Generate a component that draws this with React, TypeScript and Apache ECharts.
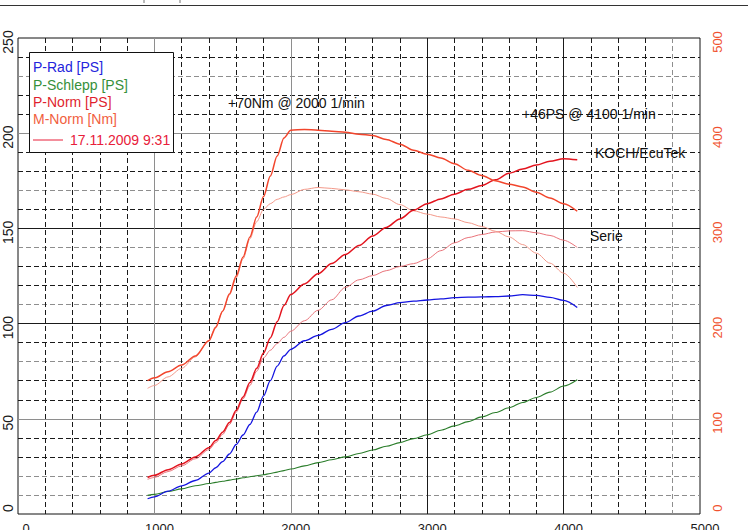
import React, { useEffect, useRef } from "react";
import * as echarts from "echarts";

// ---------------- DATA ----------------
const rpm = [950, 1000, 1100, 1200, 1300, 1400, 1450, 1500, 1550, 1600, 1650, 1700, 1750, 1800, 1850, 1900, 1950, 2000, 2100, 2200, 2300, 2400, 2500, 2600, 2700, 2800, 2900, 3000, 3100, 3200, 3300, 3400, 3500, 3600, 3700, 3800, 3900, 4000, 4100];

// P-Rad [PS]
const pRad = [8.0, 9.0, 12.0, 14.8, 17.6, 21.5, 24.3, 27.5, 31.5, 36.5, 41.5, 47, 53.5, 62, 70, 77.7, 83, 86.5, 91, 93.8, 97, 100.5, 104, 106.5, 109.5, 111, 111.8, 112.4, 113, 113.6, 113.9, 114, 114.2, 114.5, 115.2, 114.8, 113.8, 112.2, 108.5];

// P-Schlepp [PS]
const pSchlepp = [9.8, 10.3, 11.8, 13.2, 14.8, 16, 16.6, 17.2, 17.8, 18.4, 19, 19.6, 20.1, 20.6, 21.3, 22, 22.8, 23.6, 25.3, 27, 28.5, 30, 31.8, 33.6, 35.6, 37.5, 39.6, 41.6, 44, 46.3, 48.5, 51, 53.3, 55.8, 58.6, 61.2, 64, 67.2, 70.5];

// P-Norm [PS] KOCH/EcuTek
const pNormKoch = [19.2, 20.3, 23.3, 26.3, 30, 34.8, 38.6, 43, 48, 54.5, 61.5, 69, 76.5, 84.5, 92.5, 101, 109.5, 115.3, 120.8, 126.2, 131.5, 136.3, 141, 146, 150.5, 155, 159.5, 163, 165.5, 168, 170.5, 172.5, 175.5, 179, 181.2, 183.3, 185.3, 186.6, 186.0];

// P-Norm [PS] Serie
const pNormSerie = [18.2, 19.2, 22.3, 25.3, 29, 33.8, 37.5, 41.8, 47, 53.5, 60.5, 67.5, 75, 82, 86, 89.5, 92.8, 96, 101.5, 107, 112.5, 119, 123, 125.2, 127.8, 130, 131.5, 134, 138.3, 142.4, 145.2, 146.8, 148.1, 148.7, 148.8, 147.7, 146.3, 143.8, 140];

// M-Norm [Nm] KOCH/EcuTek
const mNormKoch = [140, 143, 149.5, 156.5, 166, 182, 196, 213, 231, 250, 270, 291, 312, 333.5, 355, 376, 395, 403, 404, 403, 402, 401, 399, 397.5, 393.5, 388.5, 382, 378, 374, 368, 361, 355.5, 350, 346.5, 343.5, 338, 332, 326, 318];

// M-Norm [Nm] Serie
const mNormSerie = [132, 135, 144, 153, 165, 182.5, 197, 213, 230, 248, 268, 289, 307, 320, 326, 330.5, 333, 335.5, 341, 343, 342, 340.5, 338.5, 336, 331.5, 325, 318.5, 315, 312, 310, 306, 302, 297, 291, 283, 274, 263.5, 253, 238];

// Axis ranges / ticks
const xMax = 5000;
const psMax = 250;
const nmMax = 500;
const grayDashedPS = [10, 20, 80, 110, 140, 170, 230];
const grayDashedRpm = [4800];
const solidPSColors = ["g", "b", "b", "g"]; // at 50,100,150,200 PS
const solidRpmColors = ["g", "g", "b", "b"]; // at 1000..4000 rpm

const legendItems = ["P-Rad [PS]", "P-Schlepp [PS]", "P-Norm [PS]", "M-Norm [Nm]"];
const legendDate = "17.11.2009 9:31";

// ---------------- STYLE ----------------
const FONT = "'Liberation Sans', Arial, sans-serif";
const BLACK = "#1a1a1a";
const GRAY = "#8e8e8e";
const TR = "rgba(0,0,0,0)";
const C_BLUE = "#1414e0";
const C_GREEN = "#2a7d2a";
const C_RED = "#e3141e";
const C_ORANGE = "#f2452c";
const C_RED_S = "#e9737a";
const C_ORANGE_S = "#f3998a";

const pair = (arr: number[]) => rpm.map((r, i) => [r, arr[i]]);

export default function App() {
  const ref = useRef<HTMLDivElement>(null);

  useEffect(() => {
    if (!ref.current) return;
    const chart = echarts.init(ref.current, undefined, { renderer: "svg" });

    const hDash: string[] = [];
    for (let v = 0; v <= psMax; v += 10) {
      if (v % 50 === 0) hDash.push(TR);
      else if (grayDashedPS.includes(v)) hDash.push(GRAY);
      else hDash.push(BLACK);
    }
    const vDash: string[] = [];
    for (let v = 0; v <= xMax; v += 200) {
      if (v % 1000 === 0) vDash.push(TR);
      else if (grayDashedRpm.includes(v)) vDash.push(GRAY);
      else vDash.push(BLACK);
    }
    const hSolid = [TR, ...solidPSColors.map((c) => (c === "g" ? GRAY : BLACK)), TR];
    const vSolid = [TR, ...solidRpmColors.map((c) => (c === "g" ? GRAY : BLACK)), TR];

    const richY = (color: string, size: number) => ({
      n: { fontSize: size, fontFamily: FONT, color, padding: [0, 8, 0, 0] },
      z: { fontSize: size, fontFamily: FONT, color, padding: [0, 0, 0, 12] },
    });

    const lineSeries = (name: string, data: number[], color: string, width: number, yIdx: number, z: number) => ({
      name,
      type: "line",
      xAxisIndex: 0,
      yAxisIndex: yIdx,
      data: pair(data),
      showSymbol: false,
      symbol: "none",
      smooth: 0.3,
      smoothMonotone: "x",
      z,
      lineStyle: { color, width },
      itemStyle: { color },
    });

    const legendX = 33;
    const legendColors = ["#2424dc", "#36903a", "#e01f2e", "#f1603e"];
    const legendY = [67, 84.5, 101.5, 118.5];
    const txt = (x: number, y: number, text: string, fill: string) => ({
      type: "text",
      z: 101,
      x,
      y,
      style: { text, fill, font: `14px ${FONT}`, textAlign: "left", textVerticalAlign: "middle" },
    });

    chart.setOption({
      animation: false,
      backgroundColor: "#fff",
      textStyle: { fontFamily: FONT },
      grid: {
        left: 18,
        right: 48,
        top: 38,
        bottom: 16,
        containLabel: false,
        outerBoundsMode: "none",
        show: true,
        borderColor: "#111",
        borderWidth: 1,
        backgroundColor: "#fff",
      },
      xAxis: [
        {
          type: "value",
          min: 0,
          max: xMax,
          interval: 200,
          position: "bottom",
          axisLine: { show: false },
          axisTick: { show: false },
          axisLabel: {
            margin: 8,
            fontSize: 13,
            color: BLACK,
            fontFamily: FONT,
            formatter: (v: number) => (v % 1000 === 0 ? (v === 0 ? "{z|0}" : "{n|" + v + "}") : ""),
            rich: {
              n: { fontSize: 13, fontFamily: FONT, color: BLACK, padding: [0, 0, 0, 10] },
              z: { fontSize: 13, fontFamily: FONT, color: BLACK, padding: [0, 0, 0, 16] },
            },
          },
          splitLine: { show: true, lineStyle: { type: [5, 3], width: 1, color: vDash } },
        },
        {
          type: "value",
          min: 0,
          max: xMax,
          interval: 1000,
          position: "top",
          axisLine: { show: false },
          axisTick: { show: false },
          axisLabel: { show: false },
          splitLine: { show: true, lineStyle: { type: "solid", width: 1, color: vSolid } },
        },
      ],
      yAxis: [
        {
          type: "value",
          min: 0,
          max: psMax,
          interval: 10,
          position: "left",
          axisLine: { show: false },
          axisTick: { show: false },
          axisLabel: {
            rotate: 90,
            margin: 3,
            fontSize: 14,
            color: BLACK,
            fontFamily: FONT,
            formatter: (v: number) => (v % 50 === 0 ? (v === 0 ? "{z|0}" : "{n|" + v + "}") : ""),
            rich: richY(BLACK, 14),
          },
          splitLine: { show: true, lineStyle: { type: [5, 3], width: 1, color: hDash } },
        },
        {
          type: "value",
          min: 0,
          max: nmMax,
          interval: 100,
          position: "right",
          axisLine: { show: false },
          axisTick: { show: false },
          axisLabel: {
            rotate: 90,
            margin: 11,
            fontSize: 13,
            color: "#f0522f",
            fontFamily: FONT,
            formatter: (v: number) => (v === 0 ? "{z|0}" : "{n|" + v + "}"),
            rich: richY("#f0522f", 13),
          },
          splitLine: { show: true, lineStyle: { type: "solid", width: 1, color: hSolid } },
        },
      ],
      series: [
        lineSeries("P-Schlepp [PS]", pSchlepp, C_GREEN, 1.1, 0, 2),
        lineSeries("P-Rad [PS]", pRad, C_BLUE, 1.3, 0, 3),
        lineSeries("P-Norm Serie", pNormSerie, C_RED_S, 1, 0, 2),
        lineSeries("M-Norm Serie", mNormSerie, C_ORANGE_S, 1, 1, 2),
        lineSeries("P-Norm KOCH", pNormKoch, C_RED, 1.5, 0, 4),
        lineSeries("M-Norm KOCH", mNormKoch, C_ORANGE, 1.5, 1, 4),
      ],
      graphic: [
        { type: "line", z: 100, shape: { x1: 0, y1: 5.5, x2: 748, y2: 5.5 }, style: { stroke: "#333", lineWidth: 1 } },
        { type: "line", z: 100, shape: { x1: 144, y1: 0, x2: 144, y2: 3 }, style: { stroke: "#777", lineWidth: 1 } },
        { type: "line", z: 100, shape: { x1: 180, y1: 0, x2: 180, y2: 3 }, style: { stroke: "#777", lineWidth: 1 } },
        { type: "rect", z: 100, shape: { x: 29.5, y: 52.5, width: 144, height: 100 }, style: { fill: "#fff", stroke: "#111", lineWidth: 1 } },
        ...legendItems.map((t, i) => txt(legendX, legendY[i], t, legendColors[i])),
        { type: "line", z: 101, shape: { x1: 33, y1: 140, x2: 63, y2: 140 }, style: { stroke: "#e8203a", lineWidth: 1 } },
        txt(70, 140, legendDate, "#e8203a"),
        txt(228, 103, "+70Nm @ 2000 1/min", "#111"),
        txt(522, 114, "+46PS @ 4100 1/min", "#111"),
        txt(595, 153, "KOCH/EcuTek", "#111"),
        txt(590, 236, "Serie", "#111"),
      ],
    });

    return () => chart.dispose();
  }, []);

  return <div ref={ref} style={{ position: "absolute", left: 0, top: 0, width: 748, height: 530 }} />;
}
